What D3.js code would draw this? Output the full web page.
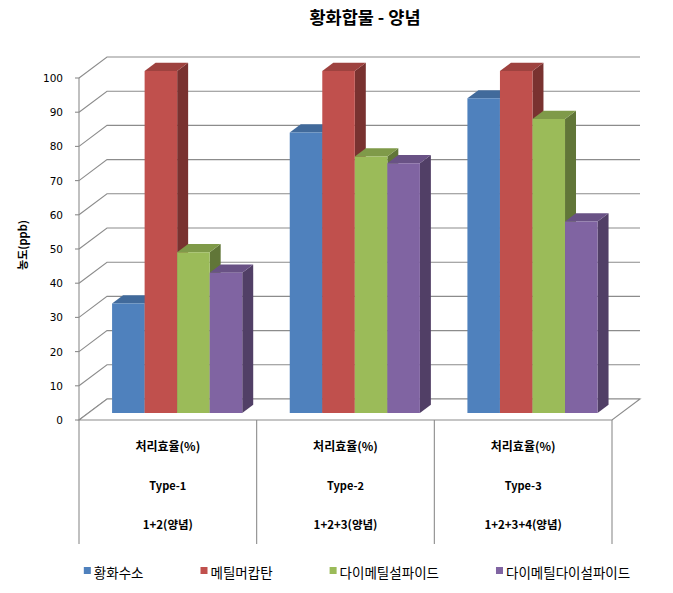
<!DOCTYPE html>
<html>
<head>
<meta charset="utf-8">
<script src="https://cdn.jsdelivr.net/npm/d3@7"></script>
<style>
  body { margin: 0; background: #fff; }
  svg { display: block; }
</style>
</head>
<body>
<svg id="chart" width="673" height="593"></svg>
<script>
// chart data
const categories = ['Type-1', 'Type-2', 'Type-3'];
const rowTop = ['처리효율(%)', '처리효율(%)', '처리효율(%)'];
const rowBottom = ['1+2(양념)', '1+2+3(양념)', '1+2+3+4(양념)'];
const seriesNames = ['황화수소', '메틸머캅탄', '다이메틸설파이드', '다이메틸다이설파이드'];
const seriesColors = ['#4F81BD', '#C0504D', '#9BBB59', '#8064A2'];
const h2s = [32, 82, 92];
const methylMercaptan = [100, 100, 100];
const dms = [47, 75, 86];
const dmds = [41, 73, 56];
const yTicks = [0, 10, 20, 30, 40, 50, 60, 70, 80, 90, 100];

const seriesValues = [h2s, methylMercaptan, dms, dmds];

const svg = d3.select('#chart');
const korFont = '"Noto Sans CJK KR", "Noto Sans", sans-serif';

// front plane + depth of the 3d box
const depthX = 28, depthY = -21;
const barFront = 0.333, barBack = 0.725;

const x = d3.scaleBand().domain(categories).range([79, 612]);
const xs = d3.scaleBand().domain(seriesNames).range([0, x.bandwidth()]).paddingOuter(0.73);
const y = d3.scaleLinear().domain([0, 100]).range([420, 78]);

const proj = (px, v, f) => [px + f * depthX, y(v) + f * depthY];

// walls
const grid = svg.append('g').attr('fill', 'none').attr('stroke', '#8c8c8c').attr('stroke-width', 1.1);
yTicks.forEach(t => {
  const a = proj(79, t, 0), b = proj(79, t, 1), c = proj(612, t, 1);
  grid.append('path').attr('d', d3.line()([a, b, c]));
  grid.append('line').attr('x1', 75).attr('x2', 79).attr('y1', y(t)).attr('y2', y(t));
});

// floor
const floorPts = [proj(79, 0, 0), proj(612, 0, 0), proj(612, 0, 1), proj(79, 0, 1)];
svg.append('path')
  .attr('d', d3.line()(floorPts) + 'Z')
  .attr('fill', '#fff')
  .attr('stroke', '#8c8c8c')
  .attr('stroke-width', 1.1);

// bars, left to right so each covers the side of the previous one
const bars = svg.append('g');
categories.forEach((cat, ci) => {
  seriesNames.forEach((s, si) => {
    const v = seriesValues[si][ci];
    const x0 = x(cat) + xs(s), x1 = x0 + xs.bandwidth();
    const col = d3.color(seriesColors[si]);
    const front = [proj(x0, 0, barFront), proj(x1, 0, barFront), proj(x1, v, barFront), proj(x0, v, barFront)];
    const side = [proj(x1, 0, barFront), proj(x1, 0, barBack), proj(x1, v, barBack), proj(x1, v, barFront)];
    const top = [proj(x0, v, barFront), proj(x1, v, barFront), proj(x1, v, barBack), proj(x0, v, barBack)];
    bars.append('path').attr('d', d3.line()(side) + 'Z').attr('fill', col.darker(1.3));
    bars.append('path').attr('d', d3.line()(top) + 'Z').attr('fill', col.darker(0.55));
    bars.append('path').attr('d', d3.line()(front) + 'Z').attr('fill', col);
  });
});

// front axis and category table lines
const tableLines = svg.append('g').attr('stroke', '#8c8c8c').attr('stroke-width', 1.1);
tableLines.append('line').attr('x1', 79).attr('x2', 79).attr('y1', y(100)).attr('y2', 544);
x.domain().forEach(c => {
  const xr = x(c) + x.bandwidth();
  tableLines.append('line').attr('x1', xr).attr('x2', xr).attr('y1', 420).attr('y2', 544);
});

// y tick labels
svg.append('g')
  .selectAll('text')
  .data(yTicks)
  .join('text')
  .attr('x', 63)
  .attr('y', d => y(d) + 4)
  .attr('text-anchor', 'end')
  .attr('font-family', '"DejaVu Sans", sans-serif')
  .attr('font-size', 10.5)
  .attr('fill', '#000')
  .text(d => d);

// category table text
const catText = svg.append('g')
  .attr('text-anchor', 'middle')
  .attr('font-family', korFont)
  .attr('font-weight', 'bold')
  .attr('fill', '#000');
categories.forEach((c, i) => {
  const cx = x(c) + x.bandwidth() / 2;
  catText.append('text').attr('x', cx).attr('y', 451).attr('font-size', 12).text(rowTop[i]);
  catText.append('text').attr('x', cx).attr('y', 490).attr('font-size', 11).text(c);
  catText.append('text').attr('x', cx).attr('y', 529).attr('font-size', 11.5).text(rowBottom[i]);
});

// title
svg.append('text')
  .attr('x', 365)
  .attr('y', 24)
  .attr('text-anchor', 'middle')
  .attr('font-family', korFont)
  .attr('font-weight', 'bold')
  .attr('font-size', 17.5)
  .text('황화합물 - 양념');

// y axis title
svg.append('text')
  .attr('transform', 'translate(27,245) rotate(-90)')
  .attr('text-anchor', 'middle')
  .attr('font-family', korFont)
  .attr('font-weight', 'bold')
  .attr('font-size', 11)
  .text('농도(ppb)');

// legend
const legend = svg.append('g');
const items = seriesNames.map((name, i) => {
  const g = legend.append('g');
  g.append('rect').attr('width', 7).attr('height', 7).attr('y', -11).attr('fill', seriesColors[i]);
  const t = g.append('text')
    .attr('x', 10)
    .attr('font-family', korFont)
    .attr('font-size', 13.5)
    .text(name);
  return { g, w: 10 + t.node().getComputedTextLength() };
});
const gap = 57;
const total = d3.sum(items, d => d.w) + gap * (items.length - 1);
let lx = 357 - total / 2;
items.forEach(it => {
  it.g.attr('transform', `translate(${lx},578)`);
  lx += it.w + gap;
});
</script>
</body>
</html>
